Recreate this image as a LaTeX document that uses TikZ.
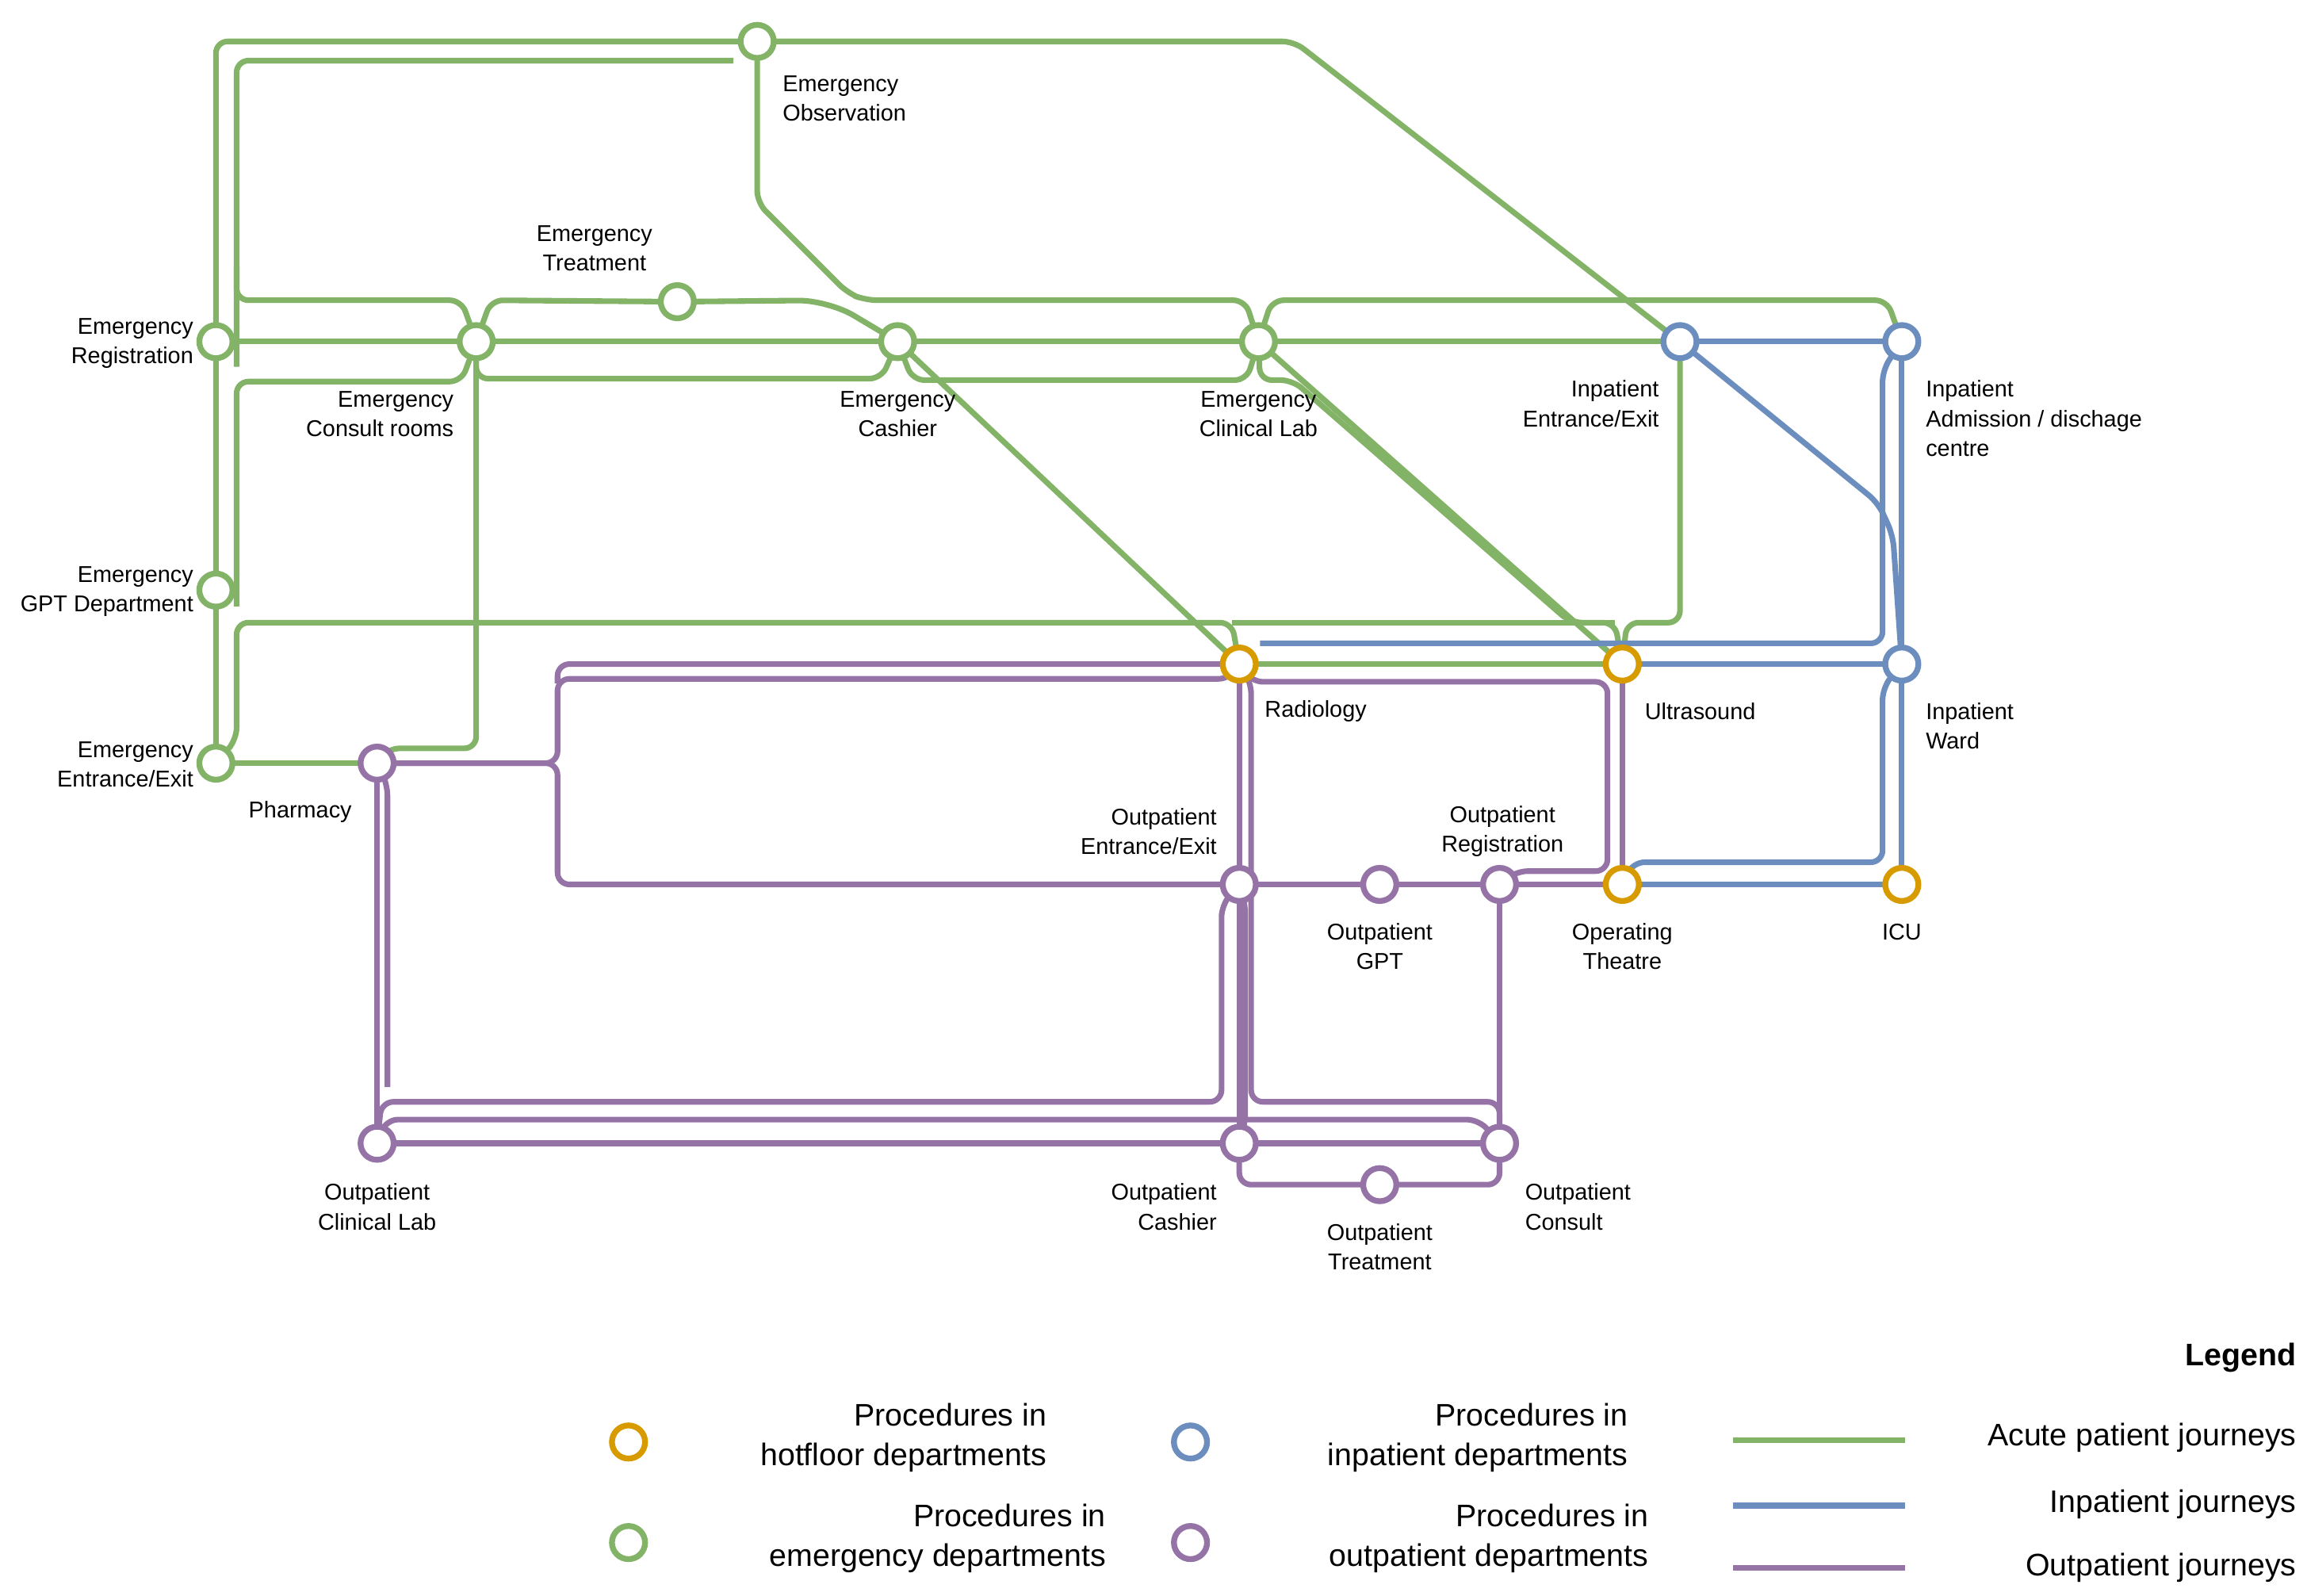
\documentclass[tikz,border=0pt]{standalone}
\usepackage{fontspec}
\setmainfont{Liberation Sans}
\usetikzlibrary{backgrounds}
\definecolor{cg}{HTML}{82B366}
\definecolor{cb}{HTML}{6C8EBF}
\definecolor{cp}{HTML}{9673A6}
\definecolor{co}{HTML}{D79B00}
\begin{document}
\begin{tikzpicture}[x=0.025cm,y=-0.025cm,
  st/.style={circle,draw=#1,fill=white,line width=2.8pt,minimum size=0.56cm,inner sep=0pt},
  lbl/.style={font=\fontsize{11}{14.2}\selectfont,inner sep=0pt},
  ln/.style={draw=#1,line width=2.7pt,rounded corners=0.2cm},
  leg/.style={font=\fontsize{15}{19}\selectfont,inner sep=0pt,align=right}]
\useasboundingbox (0,0) rectangle (1560,1079);
% stations
\node[st=cg] (EReg) at (146,231) {};
\node[st=cg] (EObs) at (512,28) {};
\node[st=cg] (ETreat) at (458,204) {};
\node[st=cg] (ECons) at (322,231) {};
\node[st=cg] (ECash) at (607,231) {};
\node[st=cg] (EClin) at (851,231) {};
\node[st=cb] (IEntr) at (1136,231) {};
\node[st=cb] (IAdm) at (1286,231) {};
\node[st=cg] (EGPT) at (146,399) {};
\node[st=cg] (EEntr) at (146,516) {};
\node[st=cp] (Pharm) at (255,516) {};
\node[st=co] (Rad) at (838,449) {};
\node[st=co] (Ultra) at (1097,449) {};
\node[st=cb] (IWard) at (1286,449) {};
\node[st=cp] (OEntr) at (838,598) {};
\node[st=cp] (OGPT) at (933,598) {};
\node[st=cp] (OReg) at (1014,598) {};
\node[st=co] (OpTh) at (1097,598) {};
\node[st=co] (ICU) at (1286,598) {};
\node[st=cp] (OClin) at (255,773) {};
\node[st=cp] (OCash) at (838,773) {};
\node[st=cp] (OCons) at (1014,773) {};
\node[st=cp] (OTreat) at (933,801) {};
\coordinate (g2a) at (496,41);
\coordinate (g12a) at (874,257);
\coordinate (b4e) at (852,435);
\coordinate (p11e) at (262,735);
\begin{scope}[on background layer]
% green
\draw[ln=cg] (EEntr.center) -- (EReg.center) -- (146,28) -- (EObs.center) -- (875,28) -- (IEntr.center);
\draw[ln=cg] (g2a) -- (160,41) -- (160,248);
\draw[ln=cg] (160,180) -- (160,203) -- (312,203) -- (ECons.center);
\draw[ln=cg] (ECons.center) -- (332,203) -- (ETreat.center);
\draw[ln=cg,rounded corners=0.5cm] (ETreat.center) -- (560,203) -- (ECash.center);
\draw[ln=cg] (160,410) -- (160,258) -- (312,258) -- (ECons.center);
\draw[ln=cg] (ECons.center) -- (322,256) -- (596,256) -- (ECash.center);
\draw[ln=cg] (EObs.center) -- (512,137) -- (573,198) -- (585,203) -- (842,203) -- (EClin.center);
\draw[ln=cg] (EClin.center) -- (860,203) -- (1276,203) -- (IAdm.center);
\draw[ln=cg] (EReg.center) -- (IEntr.center);
\draw[ln=cg] (ECash.center) -- (617,257) -- (843,257) -- (EClin.center);
\draw[ln=cg] (ECash.center) -- (Rad.center);
\draw[ln=cg] (EClin.center) -- (Ultra.center);
\draw[ln=cg] (EClin.center) -- (852,257) -- (g12a) -- (1062,421) -- (1092,421) -- (Ultra.center);
\draw[ln=cg] (EEntr.center) -- (160,500) -- (160,421) -- (833,421) -- (Rad.center);
\draw[ln=cg] (833,421) -- (1092,421);
\draw[ln=cg] (Rad.center) -- (Ultra.center);
\draw[ln=cg] (Ultra.center) -- (1100,421) -- (1136,421) -- (IEntr.center);
\draw[ln=cg] (EEntr.center) -- (Pharm.center);
\draw[ln=cg] (Pharm.center) -- (262,506) -- (322,506) -- (ECons.center);
% blue
\draw[ln=cb] (IEntr.center) -- (IAdm.center);
\draw[ln=cb] (IEntr.center) -- (1270,340) -- (1280,362) -- (IWard.center);
\draw[ln=cb] (IAdm.center) -- (IWard.center);
\draw[ln=cb] (IAdm.center) -- (1273,250) -- (1273,435) -- (b4e);
\draw[ln=cb] (Ultra.center) -- (IWard.center);
\draw[ln=cb] (IWard.center) -- (ICU.center);
\draw[ln=cb] (IWard.center) -- (1273,465) -- (1273,583) -- (1104,583) -- (OpTh.center);
\draw[ln=cb] (OpTh.center) -- (ICU.center);
% purple
\draw[ln=cp] (Rad.center) -- (377,449) -- (377,462);
\draw[ln=cp] (Pharm.center) -- (377,516) -- (377,459) -- (832,459) -- (Rad.center);
\draw[ln=cp] (Pharm.center) -- (377,516) -- (377,598) -- (OEntr.center);
\draw[ln=cp] (Rad.center) -- (846,461) -- (1087,461) -- (1087,589) -- (1025,589) -- (OReg.center);
\draw[ln=cp] (Ultra.center) -- (OpTh.center);
\draw[ln=cp] (OEntr.center) -- (OpTh.center);
\draw[ln=cp] (Rad.center) -- (OCash.center);
\draw[ln=cp] (Rad.center) -- (846,461) -- (846,745) -- (1014,745) -- (OCons.center);
\draw[ln=cp] (OReg.center) -- (OCons.center);
\draw[ln=cp] (Pharm.center) -- (OClin.center);
\draw[ln=cp] (Pharm.center) -- (262,530) -- (p11e);
\draw[ln=cp] (OEntr.center) -- (826,612) -- (826,745) -- (258,745) -- (OClin.center);
\draw[ln=cp] (OClin.center) -- (261,757) -- (1000,757) -- (OCons.center);
\draw[ln=cp] (OClin.center) -- (OCons.center);
\draw[ln=cp] (OCash.center) -- (838,801) -- (OTreat.center) -- (1014,801) -- (OCons.center);
\draw[ln=cp] (OEntr.center) -- (842,610) -- (842,760) -- (OCash.center);
\end{scope}
% labels
\node[lbl,anchor=north west,align=left] (lEObs) at (529,51) {Emergency\\Observation};
\node[lbl,align=center] (lETreat) at (402,168) {Emergency\\Treatment};
\node[lbl,anchor=east,align=right] (lEReg) at (131,232) {Emergency\\Registration};
\node[lbl,anchor=east,align=right] (lECons) at (307,280) {Emergency\\Consult rooms};
\node[lbl,align=center] (lECash) at (607,280) {Emergency\\Cashier};
\node[lbl,align=center] (lEClin) at (851,280) {Emergency\\Clinical Lab};
\node[lbl,anchor=east,align=right] (lIEntr) at (1122,273) {Inpatient\\Entrance/Exit};
\node[lbl,anchor=west,align=left] (lIAdm) at (1302,283) {Inpatient\\Admission / dischage\\centre};
\node[lbl,anchor=east,align=right] (lEGPT) at (131,400) {Emergency\\GPT Department};
\node[lbl,anchor=east,align=right] (lEEntr) at (131,517) {Emergency\\Entrance/Exit};
\node[lbl] (lPharm) at (203,549) {Pharmacy};
\node[lbl,anchor=west] (lRad) at (855,481) {Radiology};
\node[lbl,anchor=west] (lUltra) at (1112,481) {Ultrasound};
\node[lbl,anchor=west,align=left] (lIWard) at (1302,491) {Inpatient\\Ward};
\node[lbl,anchor=east,align=right] (lOEntr) at (823,562) {Outpatient\\Entrance/Exit};
\node[lbl,align=center] (lOReg) at (1016,562) {Outpatient\\Registration};
\node[lbl,align=center] (lOGPT) at (933,640) {Outpatient\\GPT};
\node[lbl,align=center] (lOpTh) at (1097,640) {Operating\\Theatre};
\node[lbl] (lICU) at (1286,630) {ICU};
\node[lbl,align=center] (lOClin) at (255,816) {Outpatient\\Clinical Lab};
\node[lbl,anchor=east,align=right] (lOCash) at (823,816) {Outpatient\\Cashier};
\node[lbl,anchor=west,align=left] (lOCons) at (1031,816) {Outpatient\\Consult};
\node[lbl,align=center] (lOTreat) at (933,843) {Outpatient\\Treatment};
% legend
\node[leg,anchor=east,font=\bfseries\fontsize{15}{19}\selectfont] (lgT) at (1553,918) {Legend};
\node[st=co] (lg1) at (425,975) {};
\node[st=cg] (lg2) at (425,1043) {};
\node[st=cb] (lg3) at (805,975) {};
\node[st=cp] (lg4) at (805,1043) {};
\node[leg,anchor=east] (lt1) at (708,972) {Procedures in\\hotfloor departments};
\node[leg,anchor=east] (lt2) at (748,1040) {Procedures in\\emergency departments};
\node[leg,anchor=east] (lt3) at (1101,972) {Procedures in\\inpatient departments};
\node[leg,anchor=east] (lt4) at (1115,1040) {Procedures in\\outpatient departments};
\coordinate (la1) at (1172,974); \coordinate (lb1) at (1288,974);
\coordinate (la2) at (1172,1018); \coordinate (lb2) at (1288,1018);
\coordinate (la3) at (1172,1060); \coordinate (lb3) at (1288,1060);
\draw[ln=cg] (la1) -- (lb1);
\draw[ln=cb] (la2) -- (lb2);
\draw[ln=cp] (la3) -- (lb3);
\node[leg,anchor=east] (ll1) at (1553,972) {Acute patient journeys};
\node[leg,anchor=east] (ll2) at (1553,1017) {Inpatient journeys};
\node[leg,anchor=east] (ll3) at (1553,1060) {Outpatient journeys};
\end{tikzpicture}
\end{document}
